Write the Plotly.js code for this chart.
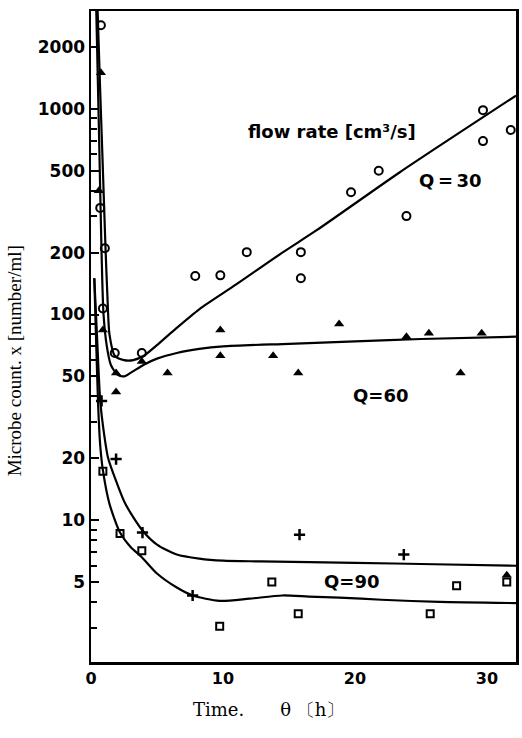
<!DOCTYPE html>
<html>
<head>
<meta charset="utf-8">
<script src="https://cdn.plot.ly/plotly-3.0.1.min.js"></script>
<style>html,body{margin:0;padding:0;background:#fff;}#chart{width:522px;height:738px;}</style>
</head>
<body>
<div id="chart"></div>
<script>
// ---- data ----
// Q = 30 (open circles)
const q30X = [0.75, 0.7, 1.05, 0.9, 1.8, 3.85, 7.9, 9.8, 11.8, 15.9, 15.9, 19.7, 21.8, 23.9, 29.7, 29.7, 31.8];
const q30Y = [2550, 330, 210, 107, 65, 65, 154, 155, 201, 201, 150, 393, 500, 301, 697, 986, 789];
// Q = 60 (filled triangles)
const q60X = [0.75, 0.6, 0.9, 1.9, 1.9, 3.85, 5.8, 9.8, 9.8, 13.8, 15.7, 18.8, 23.9, 25.6, 28.0, 29.6, 31.5];
const q60Y = [1500, 400, 84, 52, 42, 59, 52, 84, 63, 63, 52, 90, 78, 81, 52, 81, 5.4];
// Q = 90 (crosses and open squares)
const q90cX = [0.8, 1.9, 3.9, 7.7, 15.8, 23.7];
const q90cY = [38, 19.8, 8.7, 4.3, 8.5, 6.8];
const q90sX = [0.9, 2.2, 3.85, 9.75, 13.7, 15.7, 25.7, 27.7, 31.5];
const q90sY = [17.3, 8.6, 7.1, 3.05, 5.0, 3.5, 3.5, 4.8, 5.0];
// fitted curves
const c30X = [0.5, 0.7, 0.85, 1.1, 1.25, 1.4, 1.8, 2.5, 3.2, 4.0, 5.0, 6.3, 8.2, 11, 14.5, 17.1, 23.4, 32.2];
const c30Y = [3000, 1200, 630, 210, 120, 80, 63, 60, 60, 63, 71, 84, 106, 140, 200, 257, 492, 1160];
const c60X = [0.4, 0.6, 0.8, 0.95, 1.2, 1.5, 2.0, 2.5, 3.0, 4.0, 5.0, 6.5, 8.2, 10, 15, 20, 25, 32.2];
const c60Y = [3000, 800, 200, 100, 70, 57, 51, 50, 52, 57, 61, 65, 68, 70, 72, 74, 76, 78];
const c90aX = [0.25, 0.45, 0.7, 1.0, 1.3, 1.9, 2.6, 3.9, 5.0, 6.5, 8.2, 10, 12.8, 20, 26, 32.2];
const c90aY = [150, 80, 38, 26, 20, 15.5, 12, 8.9, 7.6, 6.8, 6.5, 6.35, 6.3, 6.2, 6.1, 6.0];
const c90bX = [0.25, 0.4, 0.55, 0.7, 0.9, 1.4, 2.2, 3.0, 3.85, 5.0, 6.5, 7.7, 9.75, 12, 14.5, 16.5, 18.8, 22, 26.4, 32.2];
const c90bY = [150, 70, 35, 23, 17.5, 12, 8.7, 7.4, 6.6, 5.5, 4.7, 4.3, 4.05, 4.15, 4.3, 4.25, 4.2, 4.1, 4.0, 3.95];
// axis ticks
const yTickVals = [5, 10, 20, 50, 100, 200, 500, 1000, 2000];
const yTickText = ['5', '10', '20', '50', '100', '200', '500', '1000', '2000'];
const yMinorVals = [3, 4, 6, 7, 8, 9, 30, 40, 60, 70, 80, 90, 300, 400, 600, 700, 800, 900];
const xTickVals = [0, 10, 20, 30];
const labels = ['flow rate [cm³/s]', 'Q\u2009=\u200930', 'Q=60', 'Q=90'];
const xTitle = 'Time.\u2003\u2003θ 〔h〕';
const yTitle = 'Microbe count. x [number/ml]';

const black = '#000';
function curve(x, y) {
  return {x: x, y: y, mode: 'lines', type: 'scatter', hoverinfo: 'skip',
          line: {color: black, width: 2.2, shape: 'spline', smoothing: 0.7}};
}
const traces = [
  curve(c30X, c30Y), curve(c60X, c60Y), curve(c90aX, c90aY), curve(c90bX, c90bY),
  {x: q30X, y: q30Y, mode: 'markers', type: 'scatter',
   marker: {symbol: 'circle-open', size: 8, color: black, line: {width: 2, color: black}}},
  {x: q60X, y: q60Y, mode: 'markers', type: 'scatter',
   marker: {symbol: 'triangle-up', size: 9, color: black}},
  {x: q90cX, y: q90cY, mode: 'markers', type: 'scatter',
   marker: {symbol: 'cross-thin-open', size: 8, color: black, line: {width: 2.5, color: black}}},
  {x: q90sX, y: q90sY, mode: 'markers', type: 'scatter',
   marker: {symbol: 'square-open', size: 7, color: black, line: {width: 2, color: black}}}
];

const yTickFont = {family: 'DejaVu Sans', size: 17, color: black, weight: 'bold'};
const xTickFont = {family: 'DejaVu Sans', size: 16, color: black, weight: 'bold'};
const annFont = {family: 'DejaVu Sans', size: 18, color: black, weight: 'bold'};
function label(text, x, y, font) {
  return {text: text, xref: 'paper', yref: 'paper', x: x, y: y, xanchor: 'center', yanchor: 'middle',
          showarrow: false, font: font};
}
const yTitleAnn = label(yTitle, -0.181, 0.462, {family: 'Liberation Serif', size: 19, color: black});
yTitleAnn.textangle = -90;
const layout = {
  width: 522, height: 738,
  margin: {l: 91, r: 6, t: 11, b: 76},
  paper_bgcolor: '#fff', plot_bgcolor: '#fff',
  showlegend: false,
  xaxis: {
    range: [0, 32.2], showgrid: false, zeroline: false,
    showline: true, mirror: true, linecolor: black, linewidth: 2.5,
    ticks: '', tickmode: 'array', tickvals: xTickVals,
    tickfont: xTickFont
  },
  yaxis: {
    type: 'log', range: [0.31, 3.476], showgrid: false, zeroline: false,
    showline: true, mirror: true, linecolor: black, linewidth: 2.5,
    ticks: 'inside', ticklen: 8, tickwidth: 2, tickcolor: black,
    tickmode: 'array', tickvals: yTickVals, ticktext: yTickText,
    tickfont: yTickFont,
    minor: {ticks: 'inside', tickmode: 'array', tickvals: yMinorVals, ticklen: 6, tickwidth: 2, tickcolor: black, showgrid: false}
  },
  annotations: [
    label(labels[0], 0.567, 0.815, annFont),
    label(labels[1], 0.845, 0.740, annFont),
    label(labels[2], 0.680, 0.410, annFont),
    label(labels[3], 0.614, 0.123, annFont),
    label(xTitle, 0.418, -0.0737, {family: 'DejaVu Serif', size: 18, color: black}),
    yTitleAnn
  ]
};
Plotly.newPlot('chart', traces, layout, {staticPlot: true, displayModeBar: false});
</script>
</body>
</html>
